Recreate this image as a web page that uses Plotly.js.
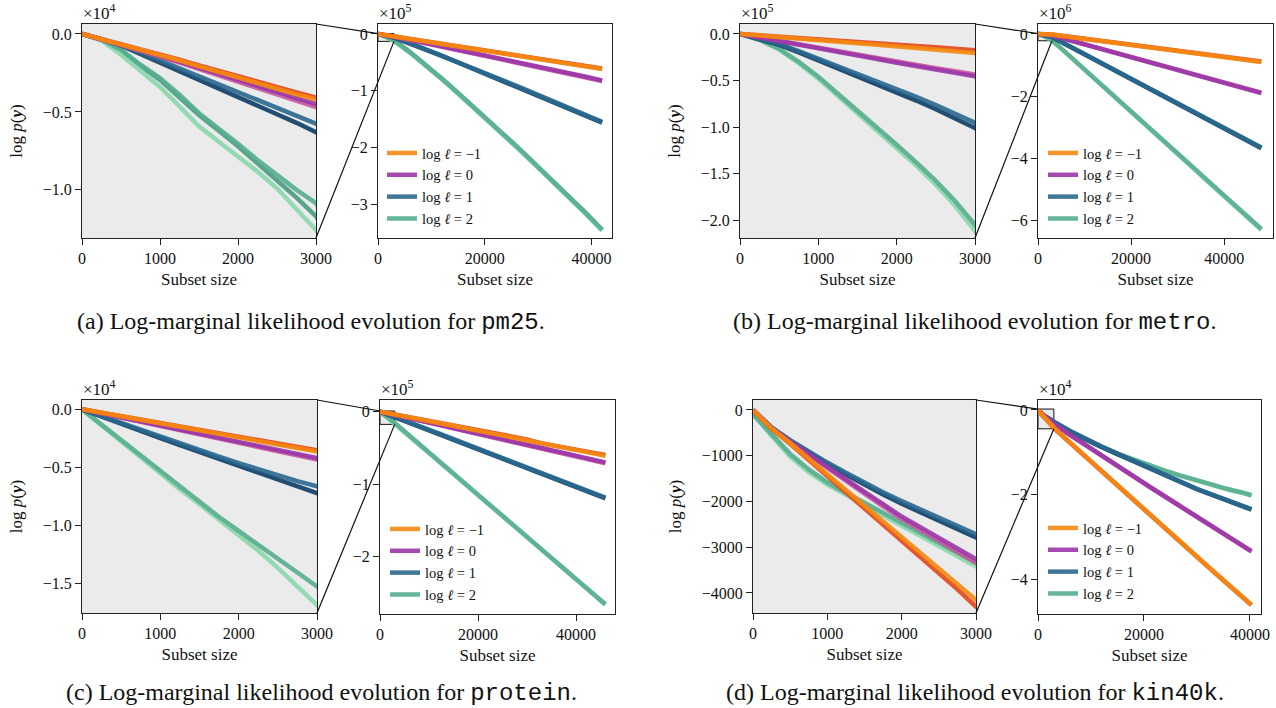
<!DOCTYPE html>
<html>
<head>
<meta charset="utf-8">
<script src="https://cdn.plot.ly/plotly-3.0.1.min.js"></script>
<style>html,body{margin:0;padding:0;background:#fff}#chart{width:1276px;height:708px}</style>
</head>
<body>
<div id="chart"></div>
<script>
// ---------------- DATA ----------------
// pm25
const xPm25 = [0,250,500,750,1000,1250,1500,1750,2000,2250,2500,2750,3000,6000,9000,12000,15000,18000,21000,24000,27000,30000,33000,36000,39000,42000];
const pm25Lm1A = [0,-330,-660,-1000,-1330,-1700,-2080,-2450,-2830,-3170,-3520,-3870,-4200,-8600,-13100,-17600,-22000,-26500,-31000,-35500,-40000,-44300,-48700,-53100,-57500,-62000];
const pm25Lm1B = [0,-320,-640,-970,-1300,-1650,-2010,-2370,-2730,-3070,-3410,-3750,-4080,-8400,-12800,-17200,-21500,-25900,-30300,-34700,-39100,-43400,-47700,-52000,-56400,-60800];
const pm25L0A = [0,-340,-690,-1040,-1400,-1780,-2170,-2560,-2950,-3340,-3720,-4100,-4500,-10200,-16000,-21800,-27700,-33500,-39400,-45300,-51200,-57000,-63000,-69500,-75500,-82000];
const pm25L0B = [0,-350,-710,-1080,-1450,-1840,-2240,-2640,-3050,-3450,-3850,-4250,-4700,-10500,-16400,-22300,-28200,-34100,-40100,-46100,-52100,-58000,-64000,-70300,-76700,-83000];
const pm25L1A = [0,-320,-700,-1200,-1700,-2200,-2700,-3200,-3750,-4250,-4750,-5250,-5750,-16000,-27000,-38000,-49500,-61000,-72500,-84000,-95500,-107000,-119000,-131000,-143000,-155000];
const pm25L1B = [0,-330,-740,-1300,-1850,-2400,-2950,-3500,-4050,-4600,-5150,-5700,-6300,-16500,-27600,-38700,-50300,-61900,-73500,-85200,-96800,-108500,-120400,-132300,-144500,-156500];
const pm25L2A = [0,-350,-1010,-1970,-2830,-3900,-5080,-6040,-7050,-8080,-9040,-10000,-10860,-32000,-55000,-79000,-104000,-129000,-155000,-181000,-207000,-234000,-261000,-288000,-316000,-345000];
const pm25L2B = [0,-420,-1330,-2400,-3400,-4650,-5930,-6900,-7870,-8830,-9900,-11190,-12580,-33000,-56000,-80000,-105000,-130500,-156500,-182500,-209000,-236000,-263000,-290500,-318500,-347000];
const pm25L2C = [0,-380,-1050,-2050,-2950,-4050,-5200,-6200,-7200,-8300,-9400,-10500,-11700,-32500,-55500,-79500,-104500,-129500,-155500,-182000,-208000,-235000,-262000,-289000,-317000,-346000];

// metro
const xMetro = [0,250,500,750,1000,1250,1500,1750,2000,2250,2500,2750,3000,6000,9000,12000,15000,18000,21000,24000,27000,30000,33000,36000,39000,42000,45000,48000];
const metroLm1A = [0,-1500,-3200,-4900,-6600,-8300,-10000,-11700,-13400,-15100,-16800,-18600,-20400,-79000,-138000,-196000,-255000,-314000,-372000,-431000,-490000,-548000,-607000,-666000,-724000,-783000,-842000,-900000];
const metroLm1B = [0,-1300,-2700,-4100,-5600,-7000,-8500,-9900,-11400,-12900,-14400,-16000,-17500,-76000,-134000,-192000,-250000,-308000,-366000,-424000,-482000,-540000,-598000,-656000,-714000,-772000,-830000,-888000];
const metroL0A = [0,-3700,-7500,-11200,-15000,-19000,-23000,-27000,-31000,-34700,-38400,-42000,-45600,-169000,-293000,-416000,-540000,-663000,-787000,-911000,-1035000,-1158000,-1282000,-1405000,-1529000,-1652000,-1776000,-1900000];
const metroL0B = [0,-3500,-7200,-10800,-14400,-18200,-22000,-25800,-29700,-33200,-36700,-40100,-43500,-165000,-288000,-410000,-533000,-655000,-778000,-901000,-1024000,-1146000,-1269000,-1392000,-1515000,-1638000,-1761000,-1884000];
const metroL1A = [0,-5500,-11000,-18500,-26500,-34500,-42500,-50500,-58500,-67500,-76500,-86000,-95500,-334000,-571000,-808000,-1045000,-1281000,-1518000,-1755000,-1992000,-2229000,-2466000,-2703000,-2940000,-3177000,-3413000,-3650000];
const metroL1B = [0,-5800,-11800,-19800,-28300,-36800,-45300,-53800,-62300,-71600,-81000,-91000,-101000,-340000,-578000,-816000,-1054000,-1292000,-1530000,-1768000,-2006000,-2244000,-2482000,-2720000,-2958000,-3196000,-3434000,-3672000];
const metroL2A = [0,-6000,-16000,-30000,-46000,-64000,-83000,-101000,-119000,-138000,-158000,-180000,-205000,-600000,-1000000,-1410000,-1810000,-2200000,-2600000,-3000000,-3420000,-3830000,-4240000,-4650000,-5050000,-5450000,-5860000,-6270000];
const metroL2B = [0,-6500,-17000,-31500,-48000,-66500,-85500,-104000,-122000,-141500,-162000,-185000,-212000,-610000,-1012000,-1424000,-1826000,-2218000,-2620000,-3022000,-3444000,-3856000,-4268000,-4680000,-5082000,-5484000,-5896000,-6308000];

// protein
const xProtein = [0,250,500,750,1000,1250,1500,1750,2000,2250,2500,2750,3000,6000,9000,12000,15000,18000,21000,24000,27000,30000,33000,36000,39000,42000,45000,46000];
const proteinLm1A = [0,-300,-600,-910,-1220,-1520,-1830,-2130,-2440,-2740,-3040,-3350,-3650,-7700,-11700,-15700,-19700,-23700,-27700,-31700,-35700,-39500,-44500,-48500,-52500,-56000,-60000,-61000];
const proteinLm1B = [0,-290,-580,-880,-1180,-1480,-1780,-2070,-2370,-2660,-2960,-3250,-3550,-7500,-11400,-15300,-19200,-23100,-27000,-30900,-34800,-38200,-43800,-47800,-51600,-55000,-58600,-59600];
const proteinL0A = [0,-350,-700,-1060,-1410,-1760,-2110,-2460,-2810,-3160,-3510,-3870,-4220,-8800,-13400,-18000,-22600,-27200,-31800,-36400,-41000,-45600,-50600,-55400,-60000,-64600,-69000,-70000];
const proteinL0B = [0,-360,-720,-1090,-1450,-1810,-2170,-2530,-2900,-3260,-3620,-3990,-4350,-9000,-13700,-18400,-23100,-27800,-32500,-37200,-41900,-46600,-51400,-56200,-60900,-65600,-70300,-71200];
const proteinL1A = [0,-600,-1200,-1800,-2350,-2950,-3550,-4100,-4650,-5200,-5700,-6200,-6650,-14500,-22300,-30100,-37900,-45700,-53500,-61300,-69100,-77000,-84800,-92600,-100500,-108300,-116100,-118500];
const proteinL1B = [0,-650,-1300,-1950,-2500,-3100,-3700,-4300,-4900,-5500,-6050,-6650,-7250,-15100,-22900,-30800,-38600,-46400,-54300,-62100,-69900,-77900,-85700,-93500,-101500,-109300,-117100,-119500];
const proteinL2A = [0,-1300,-2650,-4000,-5300,-6650,-8000,-9300,-10500,-11700,-12900,-14100,-15300,-33000,-50500,-68000,-85500,-103000,-120500,-138000,-155500,-173000,-190500,-208000,-225500,-243000,-260500,-266000];
const proteinL2B = [0,-1400,-2800,-4200,-5500,-6900,-8200,-9500,-10800,-12200,-13700,-15300,-16900,-34200,-51600,-69000,-86400,-103800,-121200,-138600,-156000,-173400,-190800,-208200,-225600,-243000,-260400,-265500];

// kin40k
const xKin40k = [0,250,500,750,1000,1250,1500,1750,2000,2250,2500,2750,3000,6000,9000,12000,15000,18000,21000,24000,27000,30000,33000,36000,39000,40300];
const kinLm1A = [0,-400,-720,-1060,-1400,-1740,-2080,-2420,-2760,-3100,-3440,-3780,-4150,-7600,-11000,-14400,-17800,-21100,-24500,-27900,-31200,-34600,-37900,-41200,-44500,-45900];
const kinLm1B = [0,-410,-740,-1090,-1440,-1790,-2140,-2490,-2840,-3190,-3550,-3920,-4300,-7700,-11100,-14500,-17900,-21200,-24600,-28000,-31300,-34700,-38000,-41300,-44600,-46000];
const kinL0A = [0,-390,-690,-970,-1240,-1520,-1790,-2060,-2330,-2560,-2800,-3030,-3260,-5800,-8300,-10800,-13200,-15600,-18000,-20400,-22800,-25100,-27400,-29800,-32200,-33300];
const kinL0B = [0,-395,-700,-990,-1270,-1550,-1830,-2110,-2380,-2620,-2860,-3100,-3340,-5900,-8400,-10900,-13300,-15700,-18100,-20500,-22900,-25200,-27500,-29900,-32300,-33400];
const kinL1A = [0,-380,-660,-915,-1150,-1370,-1590,-1800,-1990,-2190,-2380,-2580,-2770,-4900,-6800,-8600,-10300,-12000,-13700,-15400,-17000,-18600,-20000,-21400,-22800,-23400];
const kinL1B = [0,-390,-680,-940,-1180,-1410,-1640,-1850,-2050,-2250,-2450,-2640,-2830,-5000,-6900,-8700,-10400,-12100,-13800,-15500,-17100,-18700,-20100,-21500,-22900,-23500];
const kinL2A = [-100,-520,-960,-1300,-1580,-1810,-2030,-2250,-2470,-2690,-2910,-3120,-3340,-5200,-7000,-8700,-10300,-11700,-13000,-14300,-15500,-16600,-17700,-18700,-19600,-20100];
const kinL2B = [-60,-570,-1020,-1360,-1630,-1860,-2090,-2310,-2530,-2750,-2970,-3190,-3420,-5300,-7100,-8800,-10400,-11800,-13100,-14400,-15600,-16700,-17800,-18800,-19700,-20200];

// tick labels & texts
const legendLabels = ['log <i>ℓ</i> = −1','log <i>ℓ</i> = 0','log <i>ℓ</i> = 1','log <i>ℓ</i> = 2'];
const xTicksLeft = [0,1000,2000,3000];
const xTickTextLeft = ['0','1000','2000','3000'];
const xTicksRight = [0,20000,40000];
const xTickTextRight = ['0','20000','40000'];
const pm25YTicksLeft = [0,-5000,-10000];
const pm25YTextLeft = ['0.0','−0.5','−1.0'];
const pm25YTicksRight = [0,-100000,-200000,-300000];
const pm25YTextRight = ['0','−1','−2','−3'];
const metroYTicksLeft = [0,-50000,-100000,-150000,-200000];
const metroYTextLeft = ['0.0','−0.5','−1.0','−1.5','−2.0'];
const metroYTicksRight = [0,-2000000,-4000000,-6000000];
const metroYTextRight = ['0','−2','−4','−6'];
const proteinYTicksLeft = [0,-5000,-10000,-15000];
const proteinYTextLeft = ['0.0','−0.5','−1.0','−1.5'];
const proteinYTicksRight = [0,-100000,-200000];
const proteinYTextRight = ['0','−1','−2'];
const kinYTicksLeft = [0,-1000,-2000,-3000,-4000];
const kinYTextLeft = ['0','−1000','−2000','−3000','−4000'];
const kinYTicksRight = [0,-20000,-40000];
const kinYTextRight = ['0','−2','−4'];
const datasetNames = ['pm25','metro','protein','kin40k'];
const captionLetters = ['(a)','(b)','(c)','(d)'];

// ---------------- STYLE / LAYOUT ----------------
const W = 1276, H = 708;
const FONT = 'Liberation Serif, Times New Roman, serif';
const MONO = 'Liberation Mono, Courier New, monospace';
const groupColors = [['#f58a10','#e2461c'],['#9a36a9','#c9579d'],['#29688f','#0d3d66'],['#58ae8f','#8ad7ab','#489b7f']];

const panels = [
  {x:xPm25, runs:[[pm25Lm1A,pm25Lm1B],[pm25L0A,pm25L0B],[pm25L1A,pm25L1B],[pm25L2A,pm25L2B,pm25L2C]],
   boxL:[82,24,316,238], boxR:[378,24,612,238], yL:[-13090,640], xR:[0,43860], yR:[-360000,17600],
   ytL:pm25YTicksLeft, yttL:pm25YTextLeft, ytR:pm25YTicksRight, yttR:pm25YTextRight, expL:'4', expR:'5',
   legendTop:137, legendLeft:382, cap:[311,322]},
  {x:xMetro, runs:[[metroLm1A,metroLm1B],[metroL0A,metroL0B],[metroL1A,metroL1B],[metroL2A,metroL2B]],
   boxL:[740,24,975,238], boxR:[1038,24,1273,238], yL:[-219300,10700], xR:[0,50500], yR:[-6560000,320000],
   ytL:metroYTicksLeft, yttL:metroYTextLeft, ytR:metroYTicksRight, yttR:metroYTextRight, expL:'5', expR:'6',
   legendTop:137, legendLeft:1043, cap:[974,322]},
  {x:xProtein, runs:[[proteinLm1A,proteinLm1B],[proteinL0A,proteinL0B],[proteinL1A,proteinL1B],[proteinL2A,proteinL2B]],
   boxL:[82,400,317,613], boxR:[380,400,615,614], yL:[-17590,800], xR:[0,47960], yR:[-279000,16000],
   ytL:proteinYTicksLeft, yttL:proteinYTextLeft, ytR:proteinYTicksRight, yttR:proteinYTextRight, expL:'4', expR:'5',
   legendTop:513, legendLeft:385, cap:[321,693]},
  {x:xKin40k, runs:[[kinLm1A,kinLm1B],[kinL0A,kinL0B],[kinL1A,kinL1B],[kinL2A,kinL2B]],
   boxL:[753,400,976,613], boxR:[1038,400,1261,614], yL:[-4438,218], xR:[0,42100], yR:[-48100,2350],
   ytL:kinYTicksLeft, yttL:kinYTextLeft, ytR:kinYTicksRight, yttR:kinYTextRight, expL:null, expR:'4',
   legendTop:512, legendLeft:1043, cap:[975,693]}
];

function xd(b){return [b[0]/W, b[2]/W];}
function yd(b){return [1-b[3]/H, 1-b[1]/H];}
function axBase(){
  return {showline:true, mirror:true, linecolor:'#222', linewidth:1, ticks:'outside', ticklen:6, tickwidth:1,
    tickcolor:'#222', showgrid:false, zeroline:false, tickmode:'array', fixedrange:true,
    tickfont:{family:FONT, size:16, color:'#111'}};
}

const traces = [];
const layout = {width:W, height:H, margin:{l:0,r:0,t:0,b:0}, paper_bgcolor:'#fff', plot_bgcolor:'rgba(0,0,0,0)',
  font:{family:FONT, size:16, color:'#111'}, showlegend:true, shapes:[], annotations:[]};

panels.forEach((p, i) => {
  const nL = 2*i+1, nR = 2*i+2;
  const sL = nL>1 ? String(nL) : '', sR = String(nR);
  const legendId = i===0 ? 'legend' : 'legend'+(i+1);
  const xaL = axBase(); Object.assign(xaL, {domain:xd(p.boxL), anchor:'y'+sL, range:[0,3000], tickvals:xTicksLeft, ticktext:xTickTextLeft,
    title:{text:'Subset size', font:{size:17}, standoff:6}});
  const yaL = axBase(); Object.assign(yaL, {domain:yd(p.boxL), anchor:'x'+sL, range:p.yL, tickvals:p.ytL, ticktext:p.yttL,
    title:{text:'log <i>p</i>(<b><i>y</i></b>)', font:{size:17}, standoff:15}});
  const xaR = axBase(); Object.assign(xaR, {domain:xd(p.boxR), anchor:'y'+sR, range:p.xR, tickvals:xTicksRight, ticktext:xTickTextRight,
    title:{text:'Subset size', font:{size:17}, standoff:6}});
  const yaR = axBase(); Object.assign(yaR, {domain:yd(p.boxR), anchor:'x'+sR, range:p.yR, tickvals:p.ytR, ticktext:p.yttR});
  layout['xaxis'+sL] = xaL; layout['yaxis'+sL] = yaL;
  layout['xaxis'+sR] = xaR; layout['yaxis'+sR] = yaR;

  layout.shapes.push({type:'rect', xref:'x'+sL+' domain', yref:'y'+sL+' domain', x0:0, x1:1, y0:0, y1:1,
    fillcolor:'#ebebeb', line:{width:0}, layer:'below'});
  layout.shapes.push({type:'rect', xref:'x'+sR, yref:'y'+sR, x0:0, x1:3000, y0:p.yL[0], y1:p.yL[1],
    fillcolor:'#ebebeb', line:{color:'#111', width:1}, layer:'below'});
  const dx = xd(p.boxR), dy = yd(p.boxR);
  const px = v => dx[0] + (v - p.xR[0])/(p.xR[1]-p.xR[0])*(dx[1]-dx[0]);
  const py = v => dy[0] + (v - p.yR[0])/(p.yR[1]-p.yR[0])*(dy[1]-dy[0]);
  const lx = p.boxL[2]/W, lTop = 1-p.boxL[1]/H, lBot = 1-p.boxL[3]/H;
  layout.shapes.push({type:'line', xref:'paper', yref:'paper', x0:lx, y0:lTop, x1:px(0), y1:py(p.yL[1]), line:{color:'#111', width:1.2}, layer:'above'});
  layout.shapes.push({type:'line', xref:'paper', yref:'paper', x0:lx, y0:lBot, x1:px(3000), y1:py(p.yL[0]), line:{color:'#111', width:1.2}, layer:'above'});

  if (p.expL) layout.annotations.push({xref:'paper', yref:'paper', x:(p.boxL[0]-1)/W, y:1-(p.boxL[1]+1)/H, xanchor:'left', yanchor:'bottom',
    text:'×10<sup>'+p.expL+'</sup>', showarrow:false, font:{size:17}});
  layout.annotations.push({xref:'paper', yref:'paper', x:(p.boxR[0]-1)/W, y:1-(p.boxR[1]+1)/H, xanchor:'left', yanchor:'bottom',
    text:'×10<sup>'+p.expR+'</sup>', showarrow:false, font:{size:17}});

  layout.annotations.push({xref:'paper', yref:'paper', x:p.cap[0]/W, y:1-p.cap[1]/H, xanchor:'center', yanchor:'middle', showarrow:false,
    text:captionLetters[i]+' Log-marginal likelihood evolution for <span style="font-family:'+MONO+'">'+datasetNames[i]+'</span>.',
    font:{size:24, family:FONT, color:'#111'}});

  layout[legendId] = {x:p.legendLeft/W, y:1-p.legendTop/H, xanchor:'left', yanchor:'top', bgcolor:'rgba(0,0,0,0)',
    borderwidth:0, font:{family:FONT, size:14.5, color:'#111'}, itemwidth:30, tracegroupgap:0};

  for (let g = 3; g >= 0; g--) {
    const runs = p.runs[g];
    for (let r = runs.length-1; r >= 0; r--) {
      const col = groupColors[g][r];
      traces.push({type:'scatter', mode:'lines', x:p.x, y:runs[r], xaxis:'x'+sL, yaxis:'y'+sL,
        line:{color:col, width:4.5}, opacity:0.9, showlegend:false, hoverinfo:'skip'});
      traces.push({type:'scatter', mode:'lines', x:p.x, y:runs[r], xaxis:'x'+sR, yaxis:'y'+sR,
        line:{color:col, width:4.5}, opacity:0.9, name:legendLabels[g], legend:legendId,
        legendrank:g+1, showlegend:r===0, hoverinfo:'skip'});
    }
  }
});

Plotly.newPlot('chart', traces, layout, {staticPlot:true, displayModeBar:false});
</script>
</body>
</html>
